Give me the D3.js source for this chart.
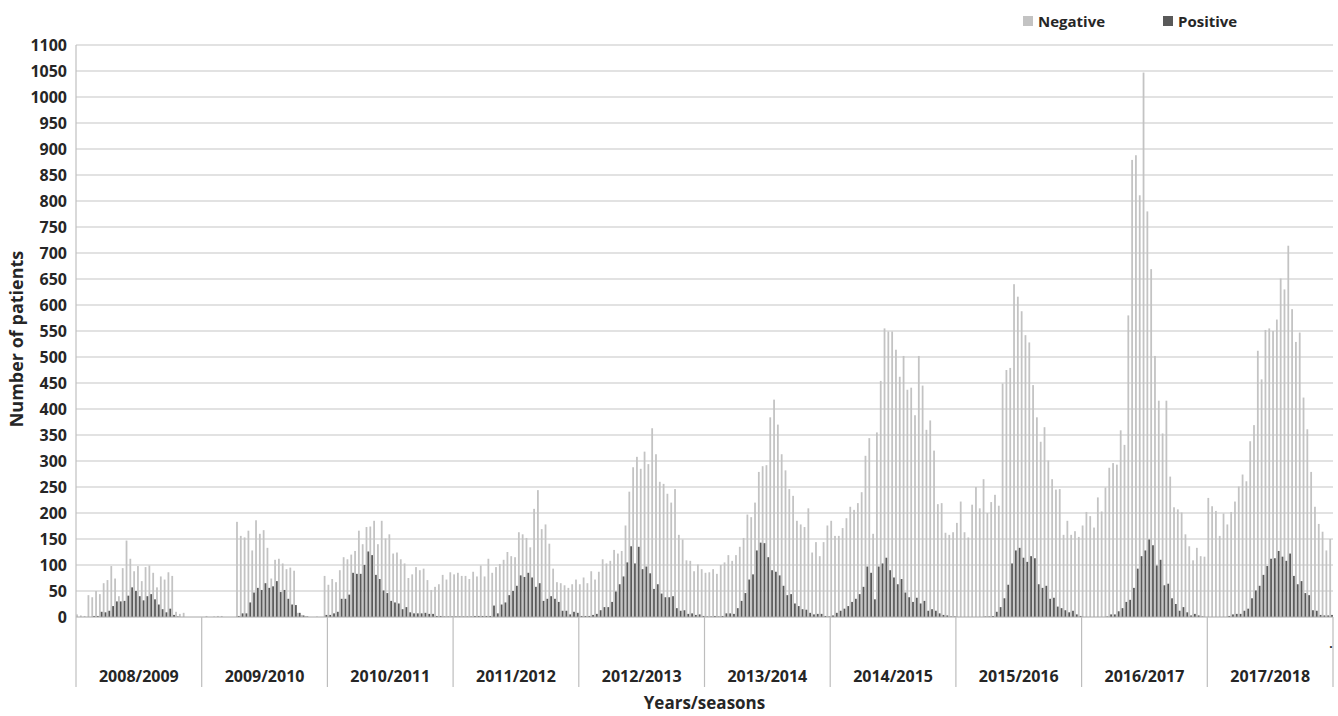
<!DOCTYPE html>
<html>
<head>
<meta charset="utf-8">
<script src="https://cdn.jsdelivr.net/npm/d3@7"></script>
<style>
  html, body { margin: 0; padding: 0; background: #ffffff; }
  svg { display: block; }
  text { font-family: "Open Sans", "Noto Sans", sans-serif; font-weight: 700; fill: #262626; }
</style>
</head>
<body>
<svg id="chart" width="1338" height="716"></svg>
<script>
// ---------- data ----------
const seasons = ["2008/2009","2009/2010","2010/2011","2011/2012","2012/2013","2013/2014","2014/2015","2015/2016","2016/2017","2017/2018"];
const seriesNames = ["Negative", "Positive"];
const yTickValues = [0,50,100,150,200,250,300,350,400,450,500,550,600,650,700,750,800,850,900,950,1000,1050,1100];

const negative_2008_2009 = [5,3,2,42,38,50,44,65,71,98,74,40,94,147,112,88,98,69,96,99,85,57,78,72,86,79,10,6,8,0,0,0,0];
const positive_2008_2009 = [0,0,0,0,2,2,10,9,12,21,30,30,31,41,57,50,40,32,40,44,34,24,15,9,16,4,1,0,0,0,0,0,0];
const negative_2009_2010 = [0,2,0,1,2,2,0,0,0,183,156,153,166,128,186,160,167,133,74,110,112,103,92,95,89,8,4,2,0,0,1,0,79];
const positive_2009_2010 = [0,0,0,0,0,0,0,0,0,2,7,7,28,47,56,52,65,56,59,69,48,52,35,24,23,8,3,1,0,0,0,0,4];
const negative_2010_2011 = [62,73,67,90,115,111,120,127,166,140,173,174,185,140,185,151,159,122,124,111,103,75,82,96,90,93,71,52,58,63,81,72,86];
const positive_2010_2011 = [4,7,10,35,35,43,85,83,83,100,126,119,81,73,51,46,31,28,26,15,19,9,7,7,7,8,6,6,2,2,1,1,1];
const negative_2011_2012 = [82,85,79,79,73,87,78,99,78,112,85,96,102,110,125,117,115,163,159,152,134,208,244,169,178,141,93,67,65,61,56,63,72];
const positive_2011_2012 = [1,1,1,1,1,2,2,2,2,2,22,7,24,28,42,50,60,80,77,85,76,58,65,31,35,40,35,29,12,12,5,10,8];
const negative_2012_2013 = [63,76,65,88,72,87,111,103,108,129,122,127,176,241,288,308,285,318,294,363,313,260,256,237,220,246,158,149,109,108,88,101,92];
const positive_2012_2013 = [2,2,2,4,6,13,19,19,29,49,63,78,105,136,103,135,92,97,84,54,63,45,38,38,40,17,12,13,6,7,4,5,2];
const negative_2013_2014 = [85,86,92,83,100,105,119,108,119,135,152,197,192,220,279,290,292,384,418,370,313,282,246,233,185,178,173,209,124,144,117,144,176];
const positive_2013_2014 = [1,1,2,1,2,7,7,6,17,31,46,72,82,128,143,142,115,90,87,80,60,42,44,26,21,15,14,8,5,6,6,2,1];
const negative_2014_2015 = [185,156,156,171,190,212,206,219,240,310,344,160,355,454,555,549,549,514,462,502,437,441,388,502,445,360,378,320,217,219,162,158,163];
const positive_2014_2015 = [3,8,12,16,21,29,35,44,58,97,85,34,97,103,114,90,76,63,73,47,38,29,37,26,31,12,15,12,7,4,3,1,1];
const negative_2015_2016 = [181,222,163,153,216,250,209,265,200,221,235,214,449,475,479,640,616,588,542,528,446,384,337,365,301,265,245,246,158,185,158,165,154];
const positive_2015_2016 = [0,0,0,0,0,0,0,1,1,2,10,19,36,62,103,128,133,114,106,117,113,63,56,60,35,37,20,17,13,9,12,5,2];
const negative_2016_2017 = [176,202,194,172,230,203,249,287,296,293,359,331,580,879,888,811,1047,780,669,502,416,353,416,270,211,207,201,159,136,109,133,117,116];
const positive_2016_2017 = [0,0,0,0,0,0,1,5,5,11,17,29,33,56,93,117,128,149,138,99,110,61,64,36,25,12,19,9,3,6,3,1,0];
const negative_2017_2018 = [229,213,204,156,199,178,202,222,251,274,261,338,369,512,457,552,555,550,572,651,630,714,592,529,547,422,361,279,212,179,164,128,150];
const positive_2017_2018 = [0,0,0,0,0,2,5,6,6,12,16,36,51,60,81,98,112,113,127,116,108,122,79,63,69,46,42,13,12,4,3,3,4];

const negativeBySeason = [negative_2008_2009, negative_2009_2010, negative_2010_2011, negative_2011_2012, negative_2012_2013,
                          negative_2013_2014, negative_2014_2015, negative_2015_2016, negative_2016_2017, negative_2017_2018];
const positiveBySeason = [positive_2008_2009, positive_2009_2010, positive_2010_2011, positive_2011_2012, positive_2012_2013,
                          positive_2013_2014, positive_2014_2015, positive_2015_2016, positive_2016_2017, positive_2017_2018];

// ---------- build table ----------
const rows = [];
seasons.forEach((s, si) => {
  negativeBySeason[si].forEach((v, wi) => {
    rows.push({ key: s + "-" + wi, season: s, neg: v, pos: positiveBySeason[si][wi] });
  });
});

// ---------- layout ----------
const svg = d3.select("#chart");
const plotLeft = 76, plotRight = 1333, plotTop = 45, plotBottom = 617;
const color = { neg: "#c3c3c3", pos: "#595959" };

const x = d3.scaleBand().domain(rows.map(d => d.key)).range([plotLeft, plotRight]).padding(0);
const xSeason = d3.scaleBand().domain(seasons).range([plotLeft, plotRight]).padding(0);
const y = d3.scaleLinear().domain([0, 1100]).range([plotBottom, plotTop]);
const xSub = d3.scaleBand().domain(seriesNames).range([0, x.bandwidth()]).paddingInner(0.02).paddingOuter(0.06);

// gridlines
svg.append("g")
  .selectAll("line")
  .data(yTickValues.filter(v => v > 0))
  .join("line")
  .attr("x1", plotLeft).attr("x2", plotRight)
  .attr("y1", d => y(d)).attr("y2", d => y(d))
  .attr("stroke", "#d9d9d9").attr("stroke-width", 1.5);

// bars
const barG = svg.append("g");
barG.selectAll("rect.neg")
  .data(rows)
  .join("rect")
  .attr("class", "neg")
  .attr("x", d => x(d.key) + xSub("Negative"))
  .attr("width", xSub.bandwidth())
  .attr("y", d => y(d.neg))
  .attr("height", d => y(0) - y(d.neg))
  .attr("fill", color.neg);
barG.selectAll("rect.pos")
  .data(rows)
  .join("rect")
  .attr("class", "pos")
  .attr("x", d => x(d.key) + xSub("Positive"))
  .attr("width", xSub.bandwidth())
  .attr("y", d => y(d.pos))
  .attr("height", d => y(0) - y(d.pos))
  .attr("fill", color.pos);

// baseline
svg.append("line")
  .attr("x1", plotLeft).attr("x2", plotRight)
  .attr("y1", y(0)).attr("y2", y(0))
  .attr("stroke", "#a6a6a6").attr("stroke-width", 1);

// y axis line
svg.append("line")
  .attr("x1", plotLeft).attr("x2", plotLeft)
  .attr("y1", plotTop).attr("y2", 687)
  .attr("stroke", "#c0c0c0").attr("stroke-width", 1.2);

// season separators
const sepX = seasons.map(s => xSeason(s) + xSeason.bandwidth());
svg.append("g").selectAll("line")
  .data(sepX)
  .join("line")
  .attr("x1", d => d).attr("x2", d => d)
  .attr("y1", y(0)).attr("y2", 687)
  .attr("stroke", "#bdbdbd").attr("stroke-width", 1.2);

// y tick labels
const yAxis = d3.axisLeft(y).tickValues(yTickValues).tickFormat(d3.format("d")).tickSize(0).tickPadding(9);
const yg = svg.append("g").attr("transform", `translate(${plotLeft},0)`).call(yAxis);
yg.select(".domain").remove();
yg.selectAll("text")
  .style("font-family", '"Open Sans", sans-serif')
  .style("font-weight", "700")
  .style("font-size", "16px")
  .attr("fill", "#262626");

// season labels
svg.append("g").selectAll("text")
  .data(seasons)
  .join("text")
  .attr("x", d => xSeason(d) + xSeason.bandwidth() / 2)
  .attr("y", 682)
  .attr("text-anchor", "middle")
  .style("font-size", "16px")
  .text(d => d);

// stray dot at the right end of the axis
svg.append("text")
  .attr("x", 1331).attr("y", 648)
  .attr("text-anchor", "middle")
  .style("font-size", "12px")
  .text(".");

// axis titles
svg.append("text")
  .attr("x", (plotLeft + plotRight) / 2).attr("y", 709)
  .attr("text-anchor", "middle")
  .style("font-size", "17px")
  .text("Years/seasons");
svg.append("text")
  .attr("transform", `translate(23,${(plotTop + plotBottom) / 2 + 8}) rotate(-90)`)
  .attr("text-anchor", "middle")
  .style("font-size", "18px")
  .text("Number of patients");

// legend
const legend = svg.append("g");
const legendItems = [
  { name: "Negative", color: color.neg, x: 1023 },
  { name: "Positive", color: color.pos, x: 1163 }
];
legend.selectAll("rect")
  .data(legendItems)
  .join("rect")
  .attr("x", d => d.x).attr("y", 16)
  .attr("width", 10).attr("height", 10)
  .attr("fill", d => d.color);
legend.selectAll("text")
  .data(legendItems)
  .join("text")
  .attr("x", d => d.x + 15).attr("y", 26.5)
  .style("font-size", "15px")
  .text(d => d.name);
</script>
</body>
</html>
